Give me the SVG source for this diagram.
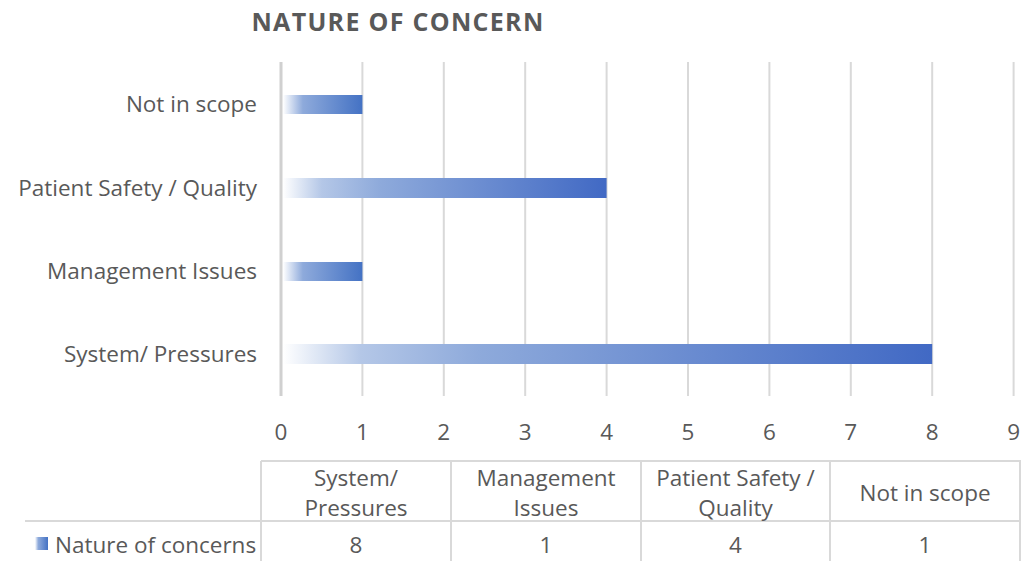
<svg xmlns="http://www.w3.org/2000/svg" width="1021" height="561" viewBox="0 0 1021 561">
<style>
text{font-family:"Open Sans","Liberation Sans",sans-serif;fill:#595959;font-size:22.5px}
.t{font-weight:bold;font-size:25px;letter-spacing:1.3px}
.grid{stroke:#d9d9d9;stroke-width:2}
.tbl{stroke:#d9d9d9;stroke-width:2;fill:none}
</style>
<defs>
<linearGradient id="g" x1="0" y1="0" x2="1" y2="0">
<stop offset="0" stop-color="#ffffff"/>
<stop offset="0.25" stop-color="#8eaadb"/>
<stop offset="1" stop-color="#4472c4"/>
</linearGradient>
<linearGradient id="gs" x1="0" y1="0" x2="1" y2="0">
<stop offset="0" stop-color="#ffffff"/>
<stop offset="0.12" stop-color="#b4c7e7"/>
<stop offset="0.3" stop-color="#8eaadb"/>
<stop offset="1" stop-color="#4169c4"/>
</linearGradient>
</defs>
<rect width="1021" height="561" fill="#fff"/>
<text class="t" x="398" y="31" text-anchor="middle">NATURE OF CONCERN</text>
<g id="gridlines">
<line class="grid" x1="362.4" y1="62" x2="362.4" y2="396"/>
<line class="grid" x1="443.8" y1="62" x2="443.8" y2="396"/>
<line class="grid" x1="525.2" y1="62" x2="525.2" y2="396"/>
<line class="grid" x1="606.6" y1="62" x2="606.6" y2="396"/>
<line class="grid" x1="688" y1="62" x2="688" y2="396"/>
<line class="grid" x1="769.4" y1="62" x2="769.4" y2="396"/>
<line class="grid" x1="850.8" y1="62" x2="850.8" y2="396"/>
<line class="grid" x1="932.2" y1="62" x2="932.2" y2="396"/>
<line class="grid" x1="1013.6" y1="62" x2="1013.6" y2="396"/>
<line x1="281" y1="62" x2="281" y2="396" stroke="#d0d0d0" stroke-width="3"/>
</g>
<g id="bars">
<rect id="bar-notinscope" x="283" y="95" width="79.4" height="19" fill="url(#g)"/>
<rect id="bar-patient" x="283" y="178" width="323.6" height="20" fill="url(#gs)"/>
<rect id="bar-management" x="283" y="262" width="79.4" height="19" fill="url(#g)"/>
<rect id="bar-system" x="283" y="344" width="649.2" height="20" fill="url(#gs)"/>
</g>
<g id="category-labels" text-anchor="end">
<text x="257" y="112">Not in scope</text>
<text x="257" y="196">Patient Safety / Quality</text>
<text x="257" y="279">Management Issues</text>
<text x="257" y="362">System/ Pressures</text>
</g>
<g id="axis-labels" text-anchor="middle">
<text x="281" y="440">0</text>
<text x="362.4" y="440">1</text>
<text x="443.8" y="440">2</text>
<text x="525.2" y="440">3</text>
<text x="606.6" y="440">4</text>
<text x="688" y="440">5</text>
<text x="769.4" y="440">6</text>
<text x="850.8" y="440">7</text>
<text x="932.2" y="440">8</text>
<text x="1013.6" y="440">9</text>
</g>
<g id="table">
<path class="tbl" d="M261 461H1021M25 521H1021M261 461V561M451 461V561M641 461V561M830 461V561M1020 461V561"/>
<g text-anchor="middle">
<text x="356" y="486">System/</text>
<text x="356" y="516">Pressures</text>
<text x="546" y="486">Management</text>
<text x="546" y="516">Issues</text>
<text x="735.5" y="486">Patient Safety /</text>
<text x="735.5" y="516">Quality</text>
<text x="925" y="501">Not in scope</text>
<text x="356" y="553">8</text>
<text x="546" y="553">1</text>
<text x="735.5" y="553">4</text>
<text x="925" y="553">1</text>
</g>
<rect x="35" y="537" width="13" height="13" fill="url(#g)"/>
<text x="55" y="553">Nature of concerns</text>
</g>
</svg>
